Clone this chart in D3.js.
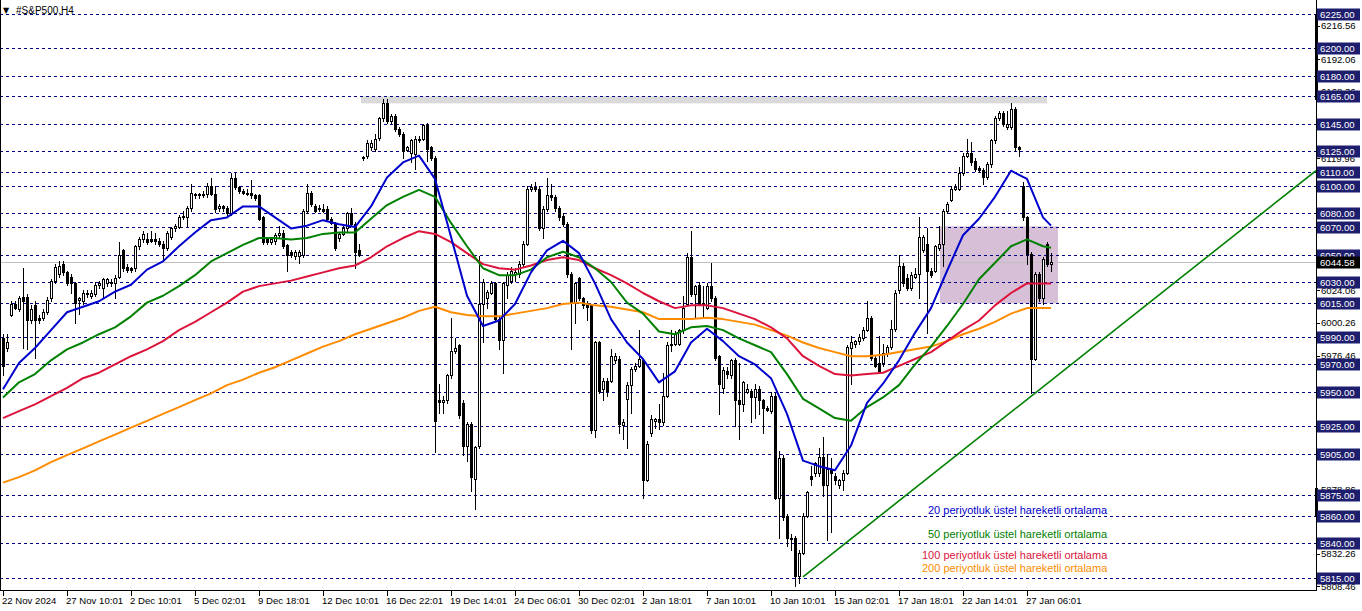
<!DOCTYPE html>
<html><head><meta charset="utf-8">
<script src="https://cdn.jsdelivr.net/npm/d3@7"></script>
<style>
html,body{margin:0;padding:0;background:#fff;overflow:hidden;}
svg{display:block;font-family:"Liberation Sans",Arial,sans-serif;}
</style></head><body>
<svg id="c" width="1362" height="611"></svg>
<script>
// ---------- DATA (S&P500 H4 candles) ----------
const opens = [5989,5982,6006,6014,6010,6019,6019,6002,6013,6004,6004,6008,6018,6031,6036,6043,6037,6034,6029,6017,
6016,6021,6020,6021,6028,6026,6029,6030,6029,6034,6053,6041,6040,6040,6056,6061,6061,6061,6061,6060,
6058,6055,6063,6069,6070,6077,6077,6084,6094,6093,6093,6094,6100,6094,6084,6085,6084,6080,6106,6099,
6096,6095,6095,6093,6093,6077,6061,6059,6060,6064,6066,6057,6052,6049,6049,6050,6082,6095,6085,6084,
6083,6083,6076,6073,6062,6065,6069,6080,6072,6053,6120,6122,6128,6127,6135,6149,6160,6147,6151,6141,
6138,6126,6124,6123,6133,6134,6144,6128,6120,5944,5943,5944,5962,5980,5984,5942,5911,5927,5887,5911,
6014,6018,6022,6029,6003,5988,6028,6031,6036,6036,6043,6058,6098,6099,6098,6069,6083,6093,6092,6084,
6078,6072,6036,6015,6033,6018,6014,6013,5922,5986,5952,5958,5958,5973,5974,5926,5945,5955,5967,5969,
5973,5886,5920,5929,5930,5928,5947,5984,5985,5985,5995,6014,6048,6021,6028,6015,6011,6027,6018,5976,
5953,5965,5962,5973,5944,5941,5950,5951,5946,5952,5944,5938,5936,5947,5873,5902,5860,5844,5844,5816,
5833,5860,5889,5891,5891,5903,5882,5894,5889,5882,5886,5891,5982,5985,5987,5989,5995,6004,5975,5971,
5971,5978,5983,5996,6024,6042,6033,6026,6034,6036,6053,6058,6038,6038,6055,6058,6082,6090,6098,6098,
6109,6122,6124,6118,6113,6111.5,6106.5,6116,6133,6149,6153,6143,6143,6156,6128,6100,6077,6050.5,5974,6036,
6018,6058,6043];
const highs = [5992,5992,6016,6016,6020,6040,6021,6013,6016,6006,6010,6019,6032,6043,6045,6045,6038,6036,6030,6019,
6024,6024,6024,6030,6031,6033,6033,6032,6035,6059,6054,6043,6041,6057,6063,6067,6066,6067,6066,6062,
6060,6067,6070,6072,6079,6082,6085,6101,6095,6095,6096,6102,6106,6100,6087,6086,6085,6109,6109,6100,
6098,6098,6104,6094,6094,6078,6063,6063,6066,6071,6068,6058,6053,6053,6053,6083,6101,6096,6087,6086,
6087,6085,6077,6074,6066,6071,6081,6084,6074,6058,6122,6133,6133,6138,6150,6163,6163,6152,6152,6143,
6139,6129,6134,6136,6136,6145,6146,6129,6122,5956,5947,5963,6004,5989,5985,5944,5928,5928,5911,6049,
6032,6024,6031,6030,6005,6030,6037,6041,6040,6045,6060,6100,6101,6103,6100,6085,6106,6101,6093,6085,
6080,6074,6037,6030,6034,6019,6016,6014,5987,5987,5960,5960,5981,5978,5976,5930,5957,5968,5971,5995,
5974,5914,5933,5931,5941,5964,5986,5995,5994,5996,6020,6051,6067,6028,6030,6027,6029,6044,6020,5977,
5968,5968,5974,5975,5971,5958,5956,5952,5956,5954,5945,5940,5950,5949,5907,5904,5861,5847,5845,5835,
5862,5878,5896,5899,5909,5917,5905,5902,5891,5887,5893,5984,5991,5988,5992,5997,6016,6005,5976,5991,
5985,5984,6002,6024,6050,6044,6036,6037,6040,6077,6064,6069,6040,6057,6071,6083,6088,6100,6101,6114,
6124,6134,6132,6120,6114.5,6113,6117,6134,6151,6154.5,6154.5,6154.5,6160,6157,6129,6103,6078,6052,6037,6037,
6048,6059,6051];
const lows = [5962,5980,6005,6010,6009,5982,5981,6000,5975,6000,6002,6007,6016,6029,6034,6035,6028,6022,6000,6007,
6014,6019,6018,6020,6026,6018,6027,6027,6018,6033,6038,6037,6037,6038,6054,6059,6058,6059,6058,6056,
6045,6053,6061,6067,6069,6076,6071,6082,6091,6091,6092,6092,6093,6081,6082,6082,6079,6079,6098,6095,
6094,6093,6091,6090,6075,6058,6058,6058,6058,6062,6055,6038,6048,6047,6044,6048,6080,6085,6081,6082,
6081,6075,6072,6053,6060,6064,6067,6071,6040,6049,6119,6120,6126,6125,6133,6147,6146,6146,6140,6136,
6120,6125,6117,6112,6132,6133,6118,6119,5906,5935,5935,5942,5960,5978,5931,5904,5900,5878,5865,5909,
5986,6011,6021,6002,5981,5964,6018,6029,6031,6034,6042,6057,6096,6096,6068,6062,6082,6090,6082,6075,
6071,6034,5981,6000,6017,6011,6002,5920,5917,5949,5944,5947,5957,5971,5920,5916,5909,5935,5965,5968,
5873,5885,5918,5924,5923,5926,5946,5980,5984,5984,5993,6013,6020,6004,6013,6005,6010,6016,5973,5934,
5949,5960,5960,5925,5916,5936,5949,5928,5931,5934,5920,5936,5935,5872,5844,5857,5838,5835,5808.46,5811,
5832,5859,5882,5889,5889,5874,5842,5848,5883,5880,5879,5890,5956,5983,5985,5988,5994,5973,5968,5964,
5969,5976,5981,5994,6022,6027,6024,6024,6033,6018,6052,5993,6034,6037,6053,6042,6080,6089,6097,6097,
6108,6121,6115,6111,6110,6101,6105,6114,6131,6148,6143.5,6141,6141,6125,6122,6075,6043,5949,5973,6016,
6014,6042,6038];
const closes = [5969,5986,6014,6011,6018,6016,6002,6010,6002,6002,6008,6017,6031,6041,6042,6037,6029,6029,6015,6018,
6022,6022,6022,6028,6029,6032,6032,6029,6033,6050,6040,6039,6039,6056,6061,6065,6059,6060,6060,6058,
6055,6066,6069,6071,6077,6078,6084,6095,6093,6094,6094,6100,6094,6083,6085,6084,6080,6106,6099,6096,
6095,6094,6093,6091,6076,6059,6059,6061,6064,6066,6056,6050,6050,6052,6052,6082,6095,6087,6082,6083,
6082,6076,6073,6055,6065,6069,6080,6072,6052,6050,6121,6131,6131,6134,6149,6160,6147,6151,6141,6138,
6125,6128,6133,6134,6134,6144,6127,6120,5929,5943,5944,5962,5980,5982,5933,5911,5927,5888,5910,6014,
6030,6023,6029,6003,5988,6029,6035,6038,6037,6043,6058,6098,6099,6098,6069,6083,6093,6092,6084,6077,
6072,6036,6015,6029,6018,6013,6012,5922,5986,5951,5958,5951,5976,5976,5927,5928,5955,5967,5969,5974,
5886,5912,5930,5930,5928,5947,5984,5985,5992,5995,6011,6048,6021,6027,6014,6014,6027,6018,5975,5956,
5966,5963,5973,5944,5941,5957,5952,5946,5952,5944,5938,5937,5947,5873,5902,5859,5844,5843,5816,5833,
5860,5877,5887,5898,5903,5882,5894,5891,5886,5886,5891,5983,5986,5987,5990,5995,6004,5975,5969,5965,
5978,5983,5996,6022,6042,6029,6026,6035,6036,6063,6063,6038,6035,6056,6058,6082,6087,6098,6099,6109,
6122,6124,6117,6112,6111.5,6106.5,6116,6133,6149,6153,6145,6145,6156,6128,6127,6077,6050.5,5974,6036,6018,
6047,6043,6044.58];

// moving averages, sampled every 4th bar (plus the last bar)
const maBars = d3.range(0, 261, 4).concat([262]);
const ema20 = [5952,5971,5982,5995,6008,6012,6016,6023,6028,6039,6045,6056,6066,6075,6077,6085,6085,6077,6069,6071,
6075,6072,6070,6085,6106,6117,6122,6105,6063,6020,5998,6002,6014,6037,6053,6060,6051,6029,6003,5986,
5974,5957,5965,5986,5996,5987,5976,5970,5960,5934,5900,5896,5893,5911,5942,5956,5973,5993,6011,6038,
6064,6076,6092,6111,6105,6077,6071];
const ema50 = [5946,5957,5963,5973,5981,5986,5992,5997,6005,6015,6020,6027,6035,6045,6051,6057,6062,6062,6061,6062,
6065,6066,6066,6076,6086,6092,6097,6092,6073,6056,6040,6035,6035,6039,6048,6052,6048,6040,6030,6015,
6007,5994,5992,5997,5998,5995,5989,5984,5979,5963,5945,5938,5931,5929,5939,5946,5955,5970,5983,5998,
6014,6032,6044,6056,6061,6056,6055];
const ema100 = [5931,5936,5941,5947,5953,5960,5964,5970,5976,5981,5987,5995,6001,6008,6015,6023,6027,6029,6031,6034,
6037,6040,6042,6048,6056,6062,6067,6065,6059,6051,6043,6040,6039,6042,6046,6048,6046,6040,6035,6029,
6022,6016,6011,6013,6013,6011,6007,6003,5997,5989,5976,5969,5963,5962,5963,5964,5969,5974,5979,5987,
5995,6002,6013,6022,6029,6029,6029];
const ema200 = [5884,5888,5893,5899,5904,5909,5914,5919,5924,5929,5934,5939,5944,5949,5955,5959,5964,5968,5973,5978,
5983,5987,5992,5996,6000,6004,6009,6012,6008,6006,6005,6005,6007,6009,6011,6014,6015,6013,6012,6010,
6008,6003,6003,6003,6004,6003,6001,5999,5995,5991,5986,5982,5979,5976,5976,5977,5979,5981,5983,5987,
5992,5996,6001,6007,6011,6011,6011];

const hLevels = [6225,6200,6180,6165,6145,6125,6110,6100,6080,6070,6050,6030,6015,5990,5970,5950,5925,5905,5875,5860,5840,5815];
const scaleTicks = [6216.56,6192.06,6168.36,6119.96,6098.16,6024.06,6000.26,5976.46,5878.86,5858.06,5832.26,5808.46];
const timeLabels = ["22 Nov 2024","27 Nov 10:01","2 Dec 10:01","5 Dec 02:01","9 Dec 18:01","12 Dec 10:01","16 Dec 22:01",
"19 Dec 14:01","24 Dec 06:01","30 Dec 02:01","2 Jan 18:01","7 Jan 10:01","10 Jan 10:01","15 Jan 02:01","17 Jan 18:01",
"22 Jan 14:01","27 Jan 06:01"];
const timeLabelBars = d3.range(0, 257, 16);
const lastPrice = 6044.58;
const resistanceZone = [90, 261, 6165, 6160];      // bar from, bar to, price top, price bottom
const purpleZone = [234.25, 263.75, 6070.5, 6014.5];
const trendLine = [200, 5815.5, 328.25, 6111];      // bar, price, bar, price
const legendLabels = ["20 periyotluk üstel hareketli ortalama","50 periyotluk üstel hareketli ortalama",
"100 periyotluk üstel hareketli ortalama","200 periyotluk üstel hareketli ortalama"];
const maColors = ["#0000cd","#008000","#dc143c","#ff8c00"];

// ---------- DRAW ----------
const svg = d3.select("#c");
const plotRight = 1316, plotBottom = 590;
const x = d3.scaleLinear().domain([0, 262]).range([3, 1051]);
const y = d3.scaleLinear().domain([5815, 6225]).range([577.5, 14]);
const px = i => Math.round(x(i));
const py = v => Math.round(y(v));

svg.append("rect").attr("width",1362).attr("height",611).attr("fill","#fff");
svg.append("defs").append("clipPath").attr("id","plot")
  .append("rect").attr("x",0).attr("y",0).attr("width",plotRight).attr("height",plotBottom);
const g = svg.append("g").attr("clip-path","url(#plot)");

// zones
g.append("rect").attr("x",x(resistanceZone[0])-2).attr("y",y(resistanceZone[2]))
  .attr("width",x(resistanceZone[1])-x(resistanceZone[0])+2).attr("height",y(resistanceZone[3])-y(resistanceZone[2]))
  .attr("fill","#d9d9d9");
g.append("rect").attr("x",x(purpleZone[0])).attr("y",y(purpleZone[2]))
  .attr("width",x(purpleZone[1])-x(purpleZone[0])).attr("height",y(purpleZone[3])-y(purpleZone[2]))
  .attr("fill","#d8bfd8");

// bid line
g.append("line").attr("x1",0).attr("x2",plotRight).attr("y1",py(lastPrice)+0.5).attr("y2",py(lastPrice)+0.5)
  .attr("stroke","#c0c0c0").attr("stroke-width",1);

// dashed horizontal levels
g.selectAll("line.lvl").data(hLevels).join("line").attr("class","lvl")
  .attr("x1",0).attr("x2",plotRight).attr("y1",d=>py(d)+0.5).attr("y2",d=>py(d)+0.5)
  .attr("stroke","#000080").attr("stroke-width",1).attr("stroke-dasharray","3,3");

// candles
const bars = d3.range(opens.length).map(i=>({i,o:opens[i],h:highs[i],l:lows[i],c:closes[i]}));
const cg = g.append("g");
bars.forEach(b=>{
  const cx = px(b.i);
  cg.append("line").attr("x1",cx+0.5).attr("x2",cx+0.5).attr("y1",py(b.h)).attr("y2",py(b.l)+1)
    .attr("stroke","#000").attr("stroke-width",1);
  const yt = py(Math.max(b.o,b.c)), yb = py(Math.min(b.o,b.c));
  if (yb - yt < 1) {
    cg.append("rect").attr("x",cx-1).attr("y",yt).attr("width",3).attr("height",1).attr("fill","#000");
  } else if (b.c >= b.o) {
    cg.append("rect").attr("x",cx-0.5).attr("y",yt+0.5).attr("width",2).attr("height",yb-yt)
      .attr("fill","#fff").attr("stroke","#000").attr("stroke-width",1);
  } else {
    cg.append("rect").attr("x",cx-1).attr("y",yt).attr("width",3).attr("height",yb-yt+1).attr("fill","#000");
  }
});

// moving averages
[ema20,ema50,ema100,ema200].reverse().forEach((arr,k)=>{
  const col = maColors[3-k];
  g.append("path").datum(arr.map((v,j)=>[maBars[j],v]))
    .attr("d",d3.line().x(d=>x(d[0])).y(d=>y(d[1])))
    .attr("fill","none").attr("stroke",col).attr("stroke-width",2).attr("stroke-linejoin","round");
});

// trend line
g.append("line").attr("x1",x(trendLine[0])).attr("y1",y(trendLine[1]))
  .attr("x2",x(trendLine[2])).attr("y2",y(trendLine[3]))
  .attr("stroke","#008000").attr("stroke-width",1.6);

// legend texts
const legPos = [[928,514],[928,538],[922,559],[922,572]];
legendLabels.forEach((t,k)=>{
  svg.append("text").attr("x",legPos[k][0]).attr("y",legPos[k][1]).attr("fill",maColors[k])
    .attr("font-size","11px").text(t);
});

// title
svg.append("text").attr("x",3).attr("y",13).attr("font-size","8px").attr("font-family","DejaVu Sans").text("▼");
svg.append("text").attr("x",16).attr("y",14).attr("font-size","10px").attr("fill","#000").text("#S&P500,H4");

// frame / axes
svg.append("line").attr("x1",0.5).attr("x2",0.5).attr("y1",0).attr("y2",plotBottom+1).attr("stroke","#000");
svg.append("line").attr("x1",plotRight+0.5).attr("x2",plotRight+0.5).attr("y1",0).attr("y2",plotBottom+1).attr("stroke","#000");
svg.append("line").attr("x1",0).attr("x2",plotRight+1).attr("y1",plotBottom+0.5).attr("y2",plotBottom+0.5).attr("stroke","#000");
svg.append("rect").attr("x",1315).attr("y",15).attr("width",3).attr("height",85).attr("fill","#000");
svg.append("rect").attr("x",1315).attr("y",488).attr("width",3).attr("height",29).attr("fill","#000");

// time axis
const tg = svg.append("g").attr("font-size","9.6px").attr("fill","#000");
timeLabelBars.forEach((b,k)=>{
  const xx = px(b);
  tg.append("line").attr("x1",xx+0.5).attr("x2",xx+0.5).attr("y1",plotBottom).attr("y2",plotBottom+6).attr("stroke","#000");
  tg.append("text").attr("x",xx-1).attr("y",604).text(timeLabels[k]);
});

// price axis: scale ticks
const ag = svg.append("g").attr("font-size","9.6px");
scaleTicks.forEach(v=>{
  const yy = y(v);
  ag.append("line").attr("x1",plotRight).attr("x2",plotRight+4).attr("y1",Math.round(yy)+0.5).attr("y2",Math.round(yy)+0.5).attr("stroke","#000");
  ag.append("text").attr("x",1321).attr("y",yy).attr("dy","0.36em").attr("fill","#000").text(v.toFixed(2));
});
// level labels
hLevels.forEach(v=>{
  const yy = py(v)+0.5;
  ag.append("rect").attr("x",1317).attr("y",yy-6).attr("width",43).attr("height",12).attr("fill","#1e1e6e");
  ag.append("text").attr("x",1320).attr("y",yy).attr("dy","0.36em").attr("fill","#fff").text(v.toFixed(2));
});
// last price label
{
  const yy = py(lastPrice)+0.5;
  ag.append("rect").attr("x",1317).attr("y",yy-6).attr("width",43).attr("height",12).attr("fill","#000");
  ag.append("text").attr("x",1320).attr("y",yy).attr("dy","0.36em").attr("fill","#fff").text(lastPrice.toFixed(2));
}
</script>
</body></html>
